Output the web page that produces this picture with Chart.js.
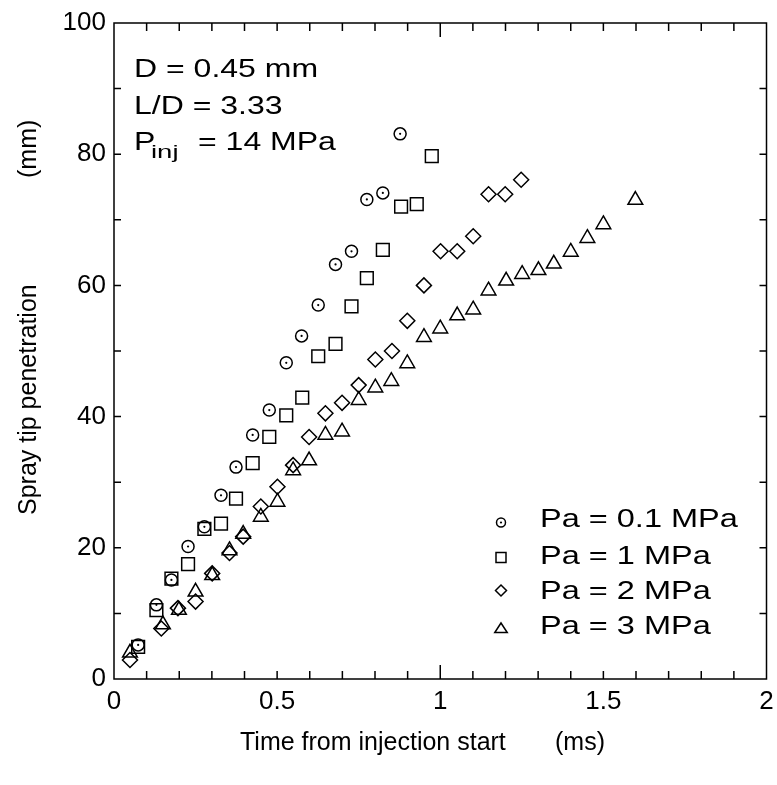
<!DOCTYPE html>
<html><head><meta charset="utf-8">
<script src="https://cdn.jsdelivr.net/npm/chart.js@4/dist/chart.umd.min.js"></script>
<style>html,body{margin:0;padding:0;background:#fff}#wrap{width:777px;height:785px;position:relative}</style>
</head><body><div id="wrap"><canvas id="c"></canvas></div>
<script>
// ---- data ----
const seriesLabels = ['Pa = 0.1 MPa', 'Pa = 1 MPa', 'Pa = 2 MPa', 'Pa = 3 MPa'];
const tPa01 = [0.074,0.13,0.176,0.227,0.277,0.328,0.374,0.425,0.476,0.528,0.575,0.626,0.679,0.728,0.775,0.824,0.877];
const sPa01 = [5.2,11.3,15.1,20.2,23.2,28.0,32.3,37.2,41.0,48.2,52.3,57.0,63.2,65.2,73.1,74.1,83.1];
const tPa1 = [0.074,0.13,0.176,0.227,0.277,0.328,0.374,0.425,0.476,0.528,0.577,0.626,0.679,0.728,0.775,0.824,0.88,0.928,0.974];
const sPa1 = [4.9,10.5,15.3,17.5,22.9,23.7,27.5,32.9,36.9,40.2,42.9,49.2,51.1,56.8,61.1,65.4,72.0,72.4,79.7];
const tPa2 = [0.049,0.145,0.196,0.25,0.301,0.354,0.396,0.45,0.501,0.549,0.598,0.648,0.699,0.75,0.801,0.852,0.899,0.95,1.001,1.052,1.101,1.148,1.199,1.248];
const sPa2 = [2.9,7.7,10.8,11.8,16.1,19.2,21.7,26.3,29.3,32.6,36.9,40.5,42.1,44.8,48.7,50.0,54.6,60.0,65.2,65.2,67.5,73.9,73.9,76.1];
const tPa3 = [0.049,0.15,0.199,0.25,0.301,0.354,0.396,0.45,0.501,0.549,0.598,0.648,0.699,0.75,0.801,0.85,0.899,0.95,1.0,1.052,1.101,1.148,1.202,1.251,1.301,1.348,1.40,1.451,1.5,1.598];
const sPa3 = [4.0,8.3,10.5,13.3,15.8,19.6,22.1,24.7,27.0,31.8,33.3,37.2,37.7,42.5,44.4,45.4,48.1,52.1,53.4,55.4,56.3,59.2,60.7,61.7,62.3,63.3,65.1,67.2,69.3,73.0];
const xTickValues = [0, 0.5, 1, 1.5, 2];
const xTickLabels = ['0', '0.5', '1', '1.5', '2'];
const yTickValues = [0, 20, 40, 60, 80, 100];
const yTickLabels = ['0', '20', '40', '60', '80', '100'];
const xTitle = 'Time from injection start';
const xUnit = '(ms)';
const yTitle = 'Spray tip penetration';
const yUnit = '(mm)';
const noteLines = ['D = 0.45 mm', 'L/D = 3.33'];
const noteP = ['P', 'inj', '= 14 MPa'];

function pts(t, s) { return t.map((v, i) => ({x: v, y: s[i]})); }

const FONT = '"Liberation Sans", Arial, sans-serif';
const styles = [
  {pointStyle: 'circle', radius: 6},
  {pointStyle: 'rect', radius: 9},
  {pointStyle: 'rectRot', radius: 7.5},
  {pointStyle: 'triangle', radius: 8.5}
];
const seriesData = [pts(tPa01, sPa01), pts(tPa1, sPa1), pts(tPa2, sPa2), pts(tPa3, sPa3)];

function sText(ctx, str, x, y, size, sx) {
  ctx.save();
  ctx.translate(x, y);
  ctx.scale(sx, 1);
  ctx.font = size + 'px ' + FONT;
  ctx.textAlign = 'left';
  ctx.textBaseline = 'alphabetic';
  ctx.fillStyle = '#000';
  ctx.fillText(str, 0, 0);
  ctx.restore();
}

function marker(ctx, kind, x, y, s) {
  ctx.save();
  ctx.strokeStyle = '#000';
  ctx.lineWidth = 1.5;
  ctx.beginPath();
  if (kind === 0) {
    ctx.arc(x, y, s, 0, Math.PI * 2);
    ctx.stroke();
    ctx.beginPath(); ctx.fillStyle = '#000'; ctx.arc(x, y, 1.1, 0, Math.PI * 2); ctx.fill();
  } else if (kind === 1) {
    ctx.rect(x - s, y - s, 2 * s, 2 * s); ctx.stroke();
  } else if (kind === 2) {
    ctx.moveTo(x - s, y); ctx.lineTo(x, y - s); ctx.lineTo(x + s, y); ctx.lineTo(x, y + s); ctx.closePath(); ctx.stroke();
  } else {
    ctx.moveTo(x, y - s); ctx.lineTo(x + s * 0.866 * 1.2, y + s * 0.6); ctx.lineTo(x - s * 0.866 * 1.2, y + s * 0.6); ctx.closePath(); ctx.stroke();
  }
  ctx.restore();
}

const decor = {
  id: 'decor',
  afterDatasetsDraw(chart) {
    const ctx = chart.ctx;
    const a = chart.chartArea;
    const xs = chart.scales.x, ys = chart.scales.y;
    // centre dots of circle markers
    const m0 = chart.getDatasetMeta(0);
    ctx.save();
    ctx.fillStyle = '#000';
    m0.data.forEach(p => { ctx.beginPath(); ctx.arc(p.x, p.y, 1.1, 0, Math.PI * 2); ctx.fill(); });
    ctx.restore();
    // frame
    ctx.save();
    ctx.strokeStyle = '#000';
    ctx.lineWidth = 1.5;
    ctx.strokeRect(a.left, a.top, a.right - a.left, a.bottom - a.top);
    // ticks (inward on all four sides)
    ctx.beginPath();
    for (let i = 1; i < 20; i++) {
      const px = xs.getPixelForValue(i / 10);
      const len = (i === 10) ? 14 : 8;
      ctx.moveTo(px, a.bottom); ctx.lineTo(px, a.bottom - len);
      ctx.moveTo(px, a.top); ctx.lineTo(px, a.top + len);
    }
    for (let i = 1; i < 10; i++) {
      const py = ys.getPixelForValue(i * 10);
      ctx.moveTo(a.left, py); ctx.lineTo(a.left + 7, py);
      ctx.moveTo(a.right, py); ctx.lineTo(a.right - 7, py);
    }
    ctx.stroke();
    ctx.restore();

    // annotations
    const sx = 1.28;
    sText(ctx, noteLines[0], 134, 77, 25, sx);
    sText(ctx, noteLines[1], 134, 114, 25, sx);
    sText(ctx, noteP[0], 134, 150, 25, sx);
    sText(ctx, noteP[1], 151, 158, 19, 1.45);
    sText(ctx, noteP[2], 198, 150, 25, sx);

    // legend
    const rowsBase = [527, 564, 599, 634];
    const rowsMark = [522.5, 557.5, 590.5, 629];
    const sizes = [4.5, 5, 5.5, 6];
    for (let i = 0; i < 4; i++) {
      marker(ctx, i, 501, rowsMark[i], sizes[i]);
      sText(ctx, seriesLabels[i], 540, rowsBase[i], 25, 1.3);
    }

    // axis titles
    sText(ctx, xTitle, 240, 750, 25, 1.0);
    sText(ctx, xUnit, 555, 750, 25, 1.0);
    ctx.save();
    ctx.translate(36, 515);
    ctx.rotate(-Math.PI / 2);
    ctx.font = '25px ' + FONT; ctx.fillStyle = '#000';
    ctx.fillText(yTitle, 0, 0);
    ctx.restore();
    ctx.save();
    ctx.translate(36, 178);
    ctx.rotate(-Math.PI / 2);
    ctx.font = '25px ' + FONT; ctx.fillStyle = '#000';
    ctx.fillText(yUnit, 0, 0);
    ctx.restore();
  }
};

new Chart(document.getElementById('c'), {
  type: 'scatter',
  data: {
    datasets: seriesData.map((d, i) => ({
      label: seriesLabels[i],
      data: d,
      pointStyle: styles[i].pointStyle,
      pointRadius: styles[i].radius,
      pointHoverRadius: styles[i].radius,
      pointBorderColor: '#000',
      pointBackgroundColor: 'rgba(0,0,0,0)',
      pointBorderWidth: 1.5,
      showLine: false
    }))
  },
  options: {
    responsive: true,
    maintainAspectRatio: false,
    animation: false,
    devicePixelRatio: 1,
    layout: {padding: {top: 23, right: 7, left: 0, bottom: 0}},
    plugins: {legend: {display: false}, tooltip: {enabled: false}},
    scales: {
      x: {
        type: 'linear', min: 0, max: 2,
        afterBuildTicks(s) { s.ticks = xTickValues.map(v => ({value: v})); },
        afterFit(s) { s.height = 106; s.paddingLeft = 0; s.paddingRight = 0; },
        grid: {display: false, drawTicks: false},
        border: {display: false},
        ticks: {font: {family: FONT, size: 26}, color: '#000', padding: 7, maxRotation: 0, autoSkip: false,
          callback: (v) => xTickLabels[xTickValues.indexOf(v)] ?? String(v)}
      },
      y: {
        type: 'linear', min: 0, max: 100,
        afterBuildTicks(s) { s.ticks = yTickValues.map(v => ({value: v})); },
        afterFit(s) { s.width = 114; s.paddingTop = 0; s.paddingBottom = 0; },
        grid: {display: false, drawTicks: false},
        border: {display: false},
        ticks: {font: {family: FONT, size: 26}, color: '#000', padding: 8,
          callback: (v) => yTickLabels[yTickValues.indexOf(v)] ?? String(v)}
      }
    }
  },
  plugins: [decor]
});
</script></body></html>
